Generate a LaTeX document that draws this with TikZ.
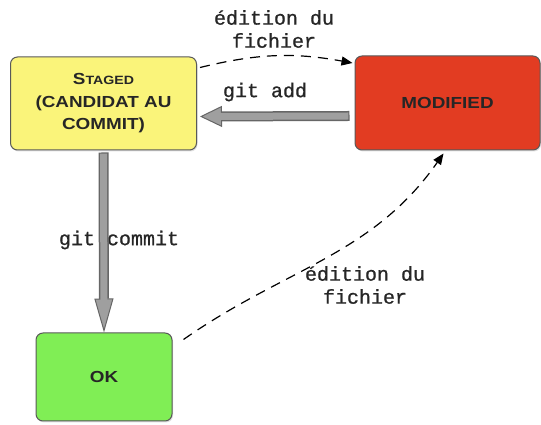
\documentclass[tikz,border=0pt]{standalone}
\usepackage{fontspec}
\newfontfamily\boxfont[FakeStretch=1.18]{Liberation Sans}
\newfontfamily\labelfont[FakeBold=0.8]{Liberation Mono}
\usepackage{tikz}
\usetikzlibrary{arrows.meta,shadows}
\usepackage{xcolor}
\definecolor{stagedyellow}{RGB}{250,244,122}
\definecolor{modred}{RGB}{226,60,34}
\definecolor{okgreen}{RGB}{128,238,85}

\begin{document}
\begin{tikzpicture}[x=1pt, y=1pt,
    state/.style={rectangle, rounded corners=7pt, draw=black!65, line width=1pt, minimum width=186pt, minimum height=93pt, align=center, text=black!85, font=\boxfont\bfseries\fontsize{16}{22.5}\selectfont, drop shadow={shadow xshift=1pt, shadow yshift=-1.5pt, opacity=0.25}},
    fat/.style={line width=10pt, draw=black!60, postaction={draw=gray!75, line width=7pt, -, shorten <=1.2pt, shorten >=#1}},
    edit/.style={line width=1.2pt, dash pattern=on 10pt off 7pt, -{Triangle[length=11pt,width=9pt]}},
    lbl/.style={font=\labelfont\fontsize{20}{23}\selectfont, align=center, text=black!85},
]
    \useasboundingbox (0,0) rectangle (541,425);

    \node[state, fill=stagedyellow] (staged) at (103.5,321.5) {{\fontsize{16}{22.5}\selectfont S}{\fontsize{12}{22.5}\selectfont TAGED}\\(CANDIDAT AU\\COMMIT)};
    \node[state, fill=modred, minimum width=185pt, minimum height=94pt] (mod) at (447.5,322) {MODIFIED};
    \node[state, fill=okgreen, minimum width=136pt, minimum height=88pt] (ok) at (104,48) {OK};

    \node[lbl] (edittop) at (274,396) {édition du\\fichier};
    \node[lbl] (addlbl) at (265,333) {git add};
    \node[lbl] (commitlbl) at (119,185) {git commit};
    \node[lbl] (editbot) at (365,140) {édition du\\fichier};

    \draw[fat=19pt, -{Triangle[length=22pt,width=21pt,line width=1pt,fill=gray!75]}] ([xshift=-5pt,yshift=-13pt]mod.west) -- ([xshift=3pt,yshift=-13pt]staged.east);
    \draw[fat=31pt, -{Triangle[length=34pt,width=19pt,line width=1pt,fill=gray!75]}] ([yshift=-2pt]staged.south) -- (ok.north);

    \draw[edit] ([xshift=3pt,yshift=36pt]staged.east) to[bend left=12] ([xshift=-2pt,yshift=40pt]mod.west);
    \draw[edit] ([xshift=11pt,yshift=-7pt]ok.north east) to[out=35, in=235] ([xshift=-4pt,yshift=-3pt]mod.south);
\end{tikzpicture}
\end{document}
